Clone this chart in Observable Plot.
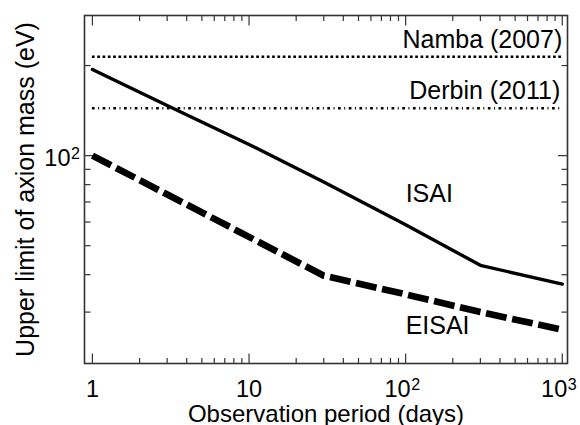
<!DOCTYPE html>
<html>
<head>
<meta charset="utf-8">
<script src="https://cdn.jsdelivr.net/npm/d3@7"></script>
<script src="https://cdn.jsdelivr.net/npm/@observablehq/plot@0.6"></script>
<style>
  html, body { margin: 0; padding: 0; background: #fff; }
</style>
</head>
<body>
<div id="chart"></div>
<script>
// Observation period (days) and upper limits of axion mass (eV)
const isaiDays  = [1, 3, 10, 30, 100, 300, 1000];
const isaiMass  = [194, 147, 109, 81.7, 58.8, 43, 37.2];
const eisaiDays = [1, 30, 100, 300, 1000];
const eisaiMass = [100, 39.7, 34.4, 30.0, 26.2];
const nambaLimit  = 214;   // Namba (2007)
const derbinLimit = 144;   // Derbin (2011)
const limitDays = [1, 1000];

const xMajor = [1, 10, 100, 1000];
const xPlainTicks = [1, 10];
const xPlainLabels = ["1", "10"];
const xPowTicks = [100, 1000];
const xPowBase = ["10", "10"];
const xPowExp = ["2", "3"];
const xMinor = [2,3,4,5,6,7,8,9, 20,30,40,50,60,70,80,90, 200,300,400,500,600,700,800,900];
const yMajor = [100];
const yPowBase = ["10"];
const yPowExp = ["2"];
const yMinor = [30,40,50,60,70,80,90,200];

const isai  = isaiDays.map((d, i) => ({d, v: isaiMass[i]}));
const eisai = eisaiDays.map((d, i) => ({d, v: eisaiMass[i]}));

const font = "'Liberation Sans', Arial, Helvetica, sans-serif";
const fs = 25;
const tfs = 23.5;
const efs = 16;
const tc = "#333";

const chart = Plot.plot({
  width: 580,
  height: 425,
  marginLeft: 84,
  marginRight: 13,
  marginTop: 15,
  marginBottom: 62,
  style: {fontFamily: font, fontSize: fs + "px", background: "#fff", color: "#000", overflow: "visible"},
  x: {type: "log", domain: [0.89, 1080], label: null},
  y: {type: "log", domain: [20.2, 294], label: null},
  marks: [
    // inward ticks on all four sides
    Plot.axisX(xMajor, {anchor: "bottom", tickSize: 9.5, dy: -9.5, fill: "none", stroke: tc, strokeWidth: 1.2, label: null}),
    Plot.axisX(xMinor, {anchor: "bottom", tickSize: 5, dy: -5, fill: "none", stroke: tc, strokeWidth: 1.2, label: null}),
    Plot.axisX(xMajor, {anchor: "top", tickSize: 9.5, dy: 9.5, fill: "none", stroke: tc, strokeWidth: 1.2, label: null}),
    Plot.axisX(xMinor, {anchor: "top", tickSize: 5, dy: 5, fill: "none", stroke: tc, strokeWidth: 1.2, label: null}),
    Plot.axisY(yMajor, {anchor: "left", tickSize: 10, dx: 10, fill: "none", stroke: tc, strokeWidth: 1.2, label: null}),
    Plot.axisY(yMinor, {anchor: "left", tickSize: 6.5, dx: 6.5, fill: "none", stroke: tc, strokeWidth: 1.2, label: null}),
    Plot.axisY(yMajor, {anchor: "right", tickSize: 10, dx: -10, fill: "none", stroke: tc, strokeWidth: 1.2, label: null}),
    Plot.axisY(yMinor, {anchor: "right", tickSize: 6.5, dx: -6.5, fill: "none", stroke: tc, strokeWidth: 1.2, label: null}),
    // x tick labels
    Plot.text(xPlainTicks, {x: (d) => d, frameAnchor: "bottom", text: (d, i) => xPlainLabels[i], textAnchor: "middle", lineAnchor: "top", dy: 16.5, fontSize: tfs, fill: "#000"}),
    Plot.text(xPowTicks, {x: (d) => d, frameAnchor: "bottom", text: (d, i) => xPowBase[i], textAnchor: "end", lineAnchor: "top", dy: 16.5, dx: 5, fontSize: tfs, fill: "#000"}),
    Plot.text(xPowTicks, {x: (d) => d, frameAnchor: "bottom", text: (d, i) => xPowExp[i], textAnchor: "start", lineAnchor: "top", dy: 15.5, dx: 5.5, fontSize: efs, fill: "#000"}),
    // y tick label
    Plot.text(yMajor, {y: (d) => d, frameAnchor: "left", text: (d, i) => yPowBase[i], textAnchor: "end", lineAnchor: "middle", dy: 2.5, dx: -14, fontSize: tfs, fill: "#000"}),
    Plot.text(yMajor, {y: (d) => d, frameAnchor: "left", text: (d, i) => yPowExp[i], textAnchor: "start", lineAnchor: "top", dy: -8.5, dx: -13.5, fontSize: efs, fill: "#000"}),
    Plot.frame({stroke: tc, strokeWidth: 1.6}),
    // reference limits
    Plot.ruleY([nambaLimit], {x1: limitDays[0], x2: limitDays[1], stroke: "#000", strokeWidth: 2.7, strokeDasharray: "2.7,2.6"}),
    Plot.ruleY([derbinLimit], {x1: limitDays[0], x2: limitDays[1], stroke: "#000", strokeWidth: 2.7, strokeDasharray: "2.7,3.5,1,3.5"}),
    // series
    Plot.line(isai, {x: "d", y: "v", stroke: "#000", strokeWidth: 3.4}),
    Plot.line(eisai, {x: "d", y: "v", stroke: "#000", strokeWidth: 6.7, strokeDasharray: "21,5.7", strokeLinecap: "butt"}),
    // annotations
    Plot.text(["Namba (2007)"], {x: limitDays[1], y: nambaLimit, text: (d) => d, textAnchor: "end", lineAnchor: "bottom", dy: -8.4, fontSize: fs, fill: "#000"}),
    Plot.text(["Derbin (2011)"], {x: limitDays[1], y: derbinLimit, text: (d) => d, textAnchor: "end", lineAnchor: "bottom", dy: -9.4, dx: -2, fontSize: fs, fill: "#000"}),
    Plot.text(["ISAI"], {x: 100, y: 70, text: (d) => d, textAnchor: "start", lineAnchor: "bottom", fontSize: fs, fill: "#000"}),
    Plot.text(["EISAI"], {x: 100, y: 25.3, text: (d) => d, textAnchor: "start", lineAnchor: "bottom", fontSize: fs, fill: "#000"}),
    // axis titles
    Plot.text(["Observation period (days)"], {frameAnchor: "bottom", text: (d) => d, textAnchor: "middle", lineAnchor: "top", dy: 41, fontSize: 24, fill: "#000"}),
    Plot.text(["Upper limit of axion mass (eV)"], {frameAnchor: "left", text: (d) => d, rotate: -90, textAnchor: "middle", lineAnchor: "bottom", dx: -50.7, fontSize: fs, fill: "#000"})
  ]
});
document.getElementById("chart").appendChild(chart);
</script>
</body>
</html>
